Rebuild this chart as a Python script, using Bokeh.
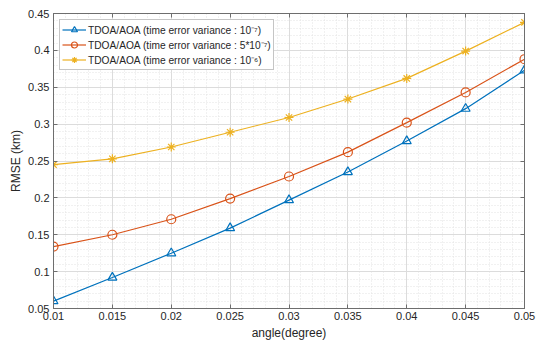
from bokeh.plotting import figure
from bokeh.models import FixedTicker, LinearAxis, Range1d, Legend, LegendItem
from bokeh.embed import file_html
from bokeh.resources import INLINE

angles = [0.01, 0.015, 0.02, 0.025, 0.03, 0.035, 0.04, 0.045, 0.05]
rmse_1e7 = [0.060, 0.092, 0.125, 0.159, 0.197, 0.235, 0.277, 0.321, 0.373]
rmse_5e7 = [0.134, 0.150, 0.171, 0.199, 0.229, 0.262, 0.302, 0.343, 0.388]
rmse_1e6 = [0.245, 0.253, 0.269, 0.289, 0.309, 0.334, 0.362, 0.399, 0.438]

x_ticks = [0.01, 0.015, 0.02, 0.025, 0.03, 0.035, 0.04, 0.045, 0.05]
x_tick_labels = ["0.01", "0.015", "0.02", "0.025", "0.03", "0.035", "0.04", "0.045", "0.05"]
y_ticks = [0.05, 0.1, 0.15, 0.2, 0.25, 0.3, 0.35, 0.4, 0.45]
y_tick_labels = ["0.05", "0.1", "0.15", "0.2", "0.25", "0.3", "0.35", "0.4", "0.45"]

labels = ["TDOA/AOA (time error variance : 10\u207b\u2077)",
          "TDOA/AOA (time error variance : 5*10\u207b\u2077)",
          "TDOA/AOA (time error variance : 10\u207b\u2076)"]
colors = ["#0072BD", "#D95319", "#EDB120"]

FONT = "Liberation Sans"
TXT = "#262626"
AX = "#6e6e6e"

p = figure(width=536, height=343, output_backend="svg", toolbar_location=None,
           x_range=Range1d(0.01, 0.05), y_range=Range1d(0.05, 0.45),
           min_border_left=53, min_border_right=12, min_border_top=13, min_border_bottom=35)
p.outline_line_color = AX
p.outline_line_width = 1
p.background_fill_color = "white"
p.border_fill_color = "white"

for ax in p.xaxis + p.yaxis:
    ax.major_tick_in = 4
    ax.major_tick_out = 0
    ax.minor_tick_in = 0
    ax.minor_tick_out = 0
    ax.axis_line_color = AX
    ax.major_tick_line_color = AX
    ax.major_label_text_font = FONT
    ax.major_label_text_font_size = "11px"
    ax.major_label_text_color = TXT
    ax.axis_label_text_font = FONT
    ax.axis_label_text_font_size = "12px"
    ax.axis_label_text_font_style = "normal"
    ax.axis_label_text_color = TXT

p.xaxis.ticker = FixedTicker(ticks=x_ticks, minor_ticks=[round(0.01 + i * 0.001, 4) for i in range(41)])
p.yaxis.ticker = FixedTicker(ticks=y_ticks, minor_ticks=[round(0.05 + i * 0.01, 4) for i in range(41)])
p.xaxis.major_label_overrides = dict(zip(x_ticks, x_tick_labels))
p.yaxis.major_label_overrides = dict(zip(y_ticks, y_tick_labels))
p.xaxis.axis_label = "angle(degree)"
p.yaxis.axis_label = "RMSE (km)"
p.xaxis.axis_label_standoff = 3
p.yaxis.axis_label_standoff = 2
p.xaxis.major_label_standoff = 3
p.yaxis.major_label_standoff = 4

top = LinearAxis(ticker=FixedTicker(ticks=x_ticks), major_label_text_font_size="0px",
                 major_tick_in=4, major_tick_out=0, minor_tick_in=0, minor_tick_out=0,
                 axis_line_color=AX, major_tick_line_color=AX)
right = LinearAxis(ticker=FixedTicker(ticks=y_ticks), major_label_text_font_size="0px",
                   major_tick_in=4, major_tick_out=0, minor_tick_in=0, minor_tick_out=0,
                   axis_line_color=AX, major_tick_line_color=AX)
top.major_label_overrides = {t: "" for t in x_ticks}
right.major_label_overrides = {t: "" for t in y_ticks}
p.add_layout(top, "above")
p.add_layout(right, "right")

for g in [p.xgrid[0], p.ygrid[0]]:
    g.grid_line_color = "#dcdcdc"
    g.grid_line_width = 1
    g.minor_grid_line_color = "#e2e2e2"
    g.minor_grid_line_dash = "1 2"
    g.minor_grid_line_width = 1

r1l = p.line(angles, rmse_1e7, color=colors[0], line_width=1.2)
r1m = p.scatter(angles, rmse_1e7, marker="triangle", size=9, line_color=colors[0],
                fill_color=None, line_width=1.2)
r2l = p.line(angles, rmse_5e7, color=colors[1], line_width=1.2)
r2m = p.scatter(angles, rmse_5e7, marker="circle", size=9, line_color=colors[1],
                fill_color=None, line_width=1.2)
r3l = p.line(angles, rmse_1e6, color=colors[2], line_width=1.2)
r3m = p.scatter(angles, rmse_1e6, marker="asterisk", size=9, line_color=colors[2],
                line_width=1.2)

legend = Legend(items=[LegendItem(label=labels[0], renderers=[r1l, r1m]),
                       LegendItem(label=labels[1], renderers=[r2l, r2m]),
                       LegendItem(label=labels[2], renderers=[r3l, r3m])],
                location="top_left")
legend.label_text_font = FONT
legend.label_text_font_size = "10.2px"
legend.label_text_color = TXT
legend.border_line_color = "#8c8c8c"
legend.border_line_width = 1
legend.margin = 6
legend.padding = 2
legend.spacing = 0
legend.glyph_width = 24
legend.glyph_height = 15
legend.label_height = 15
legend.label_standoff = 2
legend.background_fill_color = "white"
legend.background_fill_alpha = 1
p.add_layout(legend)

open("out.html", "w").write(file_html(p, INLINE))
